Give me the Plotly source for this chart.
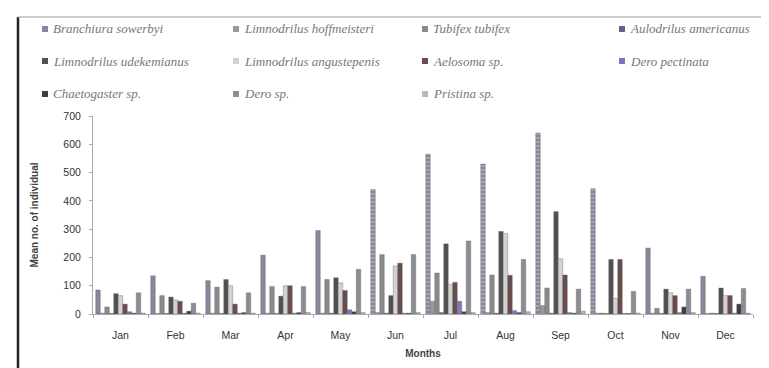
import plotly.graph_objects as go

months = ["Jan", "Feb", "Mar", "Apr", "May", "Jun", "Jul", "Aug", "Sep", "Oct", "Nov", "Dec"]

species = [
    "Branchiura sowerbyi", "Limnodrilus hoffmeisteri", "Tubifex tubifex", "Aulodrilus americanus",
    "Limnodrilus udekemianus", "Limnodrilus angustepenis", "Aelosoma sp.", "Dero pectinata",
    "Chaetogaster sp.", "Dero sp.", "Pristina sp.",
]

branchiura_sowerbyi      = [85, 135, 118, 208, 295, 440, 565, 530, 640, 443, 233, 133]
limnodrilus_hoffmeisteri = [3, 2, 3, 3, 3, 5, 45, 5, 30, 3, 3, 2]
tubifex_tubifex          = [25, 65, 95, 97, 122, 210, 145, 138, 92, 3, 20, 3]
aulodrilus_americanus    = [2, 2, 2, 2, 3, 3, 5, 3, 3, 2, 2, 2]
limnodrilus_udekemianus  = [72, 60, 122, 63, 128, 65, 248, 292, 362, 193, 88, 92]
limnodrilus_angustepenis = [65, 50, 100, 100, 110, 170, 105, 285, 195, 55, 75, 65]
aelosoma_sp              = [35, 45, 35, 100, 83, 180, 112, 137, 138, 193, 65, 65]
dero_pectinata           = [8, 3, 3, 3, 15, 3, 45, 12, 5, 2, 5, 3]
chaetogaster_sp          = [3, 10, 5, 5, 8, 3, 8, 5, 3, 2, 25, 35]
dero_sp                  = [75, 38, 75, 97, 158, 210, 258, 193, 88, 80, 88, 90]
pristina_sp              = [3, 3, 3, 5, 5, 5, 5, 8, 10, 3, 5, 3]

series = [branchiura_sowerbyi, limnodrilus_hoffmeisteri, tubifex_tubifex, aulodrilus_americanus,
          limnodrilus_udekemianus, limnodrilus_angustepenis, aelosoma_sp, dero_pectinata,
          chaetogaster_sp, dero_sp, pristina_sp]

colors = ["#86889c", "#9a9a9a", "#8a8a8a", "#6b5b95", "#505050", "#d2d2d2",
          "#6a4c4c", "#7a78b8", "#3c3c4a", "#8c8c96", "#b8b8b8"]

# figure geometry (px)
W, H = 769, 368
L, R, T, B = 85, 24, 108, 62
pw, ph = W - L - R, H - T - B

def px_to_paper(x, y):
    return (x - L) / pw, (H - B - y) / ph

fig = go.Figure()
for i, (name, vals) in enumerate(zip(species, series)):
    marker = dict(color=colors[i], line=dict(color="#666666", width=0.4))
    if i == 0:
        marker["pattern"] = dict(shape=["", "", "", "", "", "-", "-", "-", "-", "-", "", ""],
                                 fgcolor="#e8e8ee", bgcolor=colors[i], size=4, solidity=0.3)
    fig.add_trace(go.Bar(x=months, y=vals, name=name, marker=marker, showlegend=False))

# manual legend (3 rows x 4 columns)
col_x = [37, 228, 417, 614]
row_y = [21, 53, 86]
for i, name in enumerate(species):
    r, c = divmod(i, 4)
    mx, my = col_x[c], row_y[r]
    x0, y0 = px_to_paper(mx - 3, my - 3)
    x1, y1 = px_to_paper(mx + 3, my + 3)
    fig.add_shape(type="rect", xref="paper", yref="paper", x0=x0, x1=x1, y0=y1, y1=y0,
                  fillcolor=colors[i], line=dict(width=0))
    tx, ty = px_to_paper(mx + 6, my)
    fig.add_annotation(xref="paper", yref="paper", x=tx, y=ty, xanchor="left", yanchor="middle",
                       text="<i>" + name + "</i>", showarrow=False,
                       font=dict(size=13, color="#777777", family="Liberation Serif"))

# frame lines
fx0, fy0 = px_to_paper(10, 9)
fx1, fy1 = px_to_paper(769, 368)
fig.add_shape(type="line", xref="paper", yref="paper", x0=fx0, x1=fx0, y0=fy0, y1=fy1,
              line=dict(color="#222222", width=2.5))
fig.add_shape(type="line", xref="paper", yref="paper", x0=fx0, x1=fx1, y0=fy0, y1=fy0,
              line=dict(color="#bbbbbb", width=1.5))

fig.update_layout(
    width=W, height=H,
    margin=dict(l=L, r=R, t=T, b=B),
    paper_bgcolor="white", plot_bgcolor="white",
    barmode="group", bargap=0.1, bargroupgap=0,
    font=dict(family="Liberation Sans", size=10, color="#333333"),
)
fig.update_xaxes(
    showline=True, linecolor="#aaaaaa", linewidth=1,
    ticks="outside", tickson="boundaries", ticklen=3, tickcolor="#aaaaaa",
    ticklabelstandoff=11, showgrid=False, tickfont=dict(size=10.5),
    title=dict(text="<b>Months</b>", standoff=10, font=dict(size=10, color="#444444")),
)
fig.update_yaxes(
    range=[0, 700], dtick=100, showline=True, linecolor="#aaaaaa", linewidth=1,
    ticks="outside", ticklen=3, tickcolor="#aaaaaa", showgrid=False, zeroline=False,
    ticklabelstandoff=6, tickfont=dict(size=10.5),
    title=dict(text="<b>Mean no. of individual</b>", standoff=22, font=dict(size=10, color="#444444")),
)

fig.write_html("out.html")
